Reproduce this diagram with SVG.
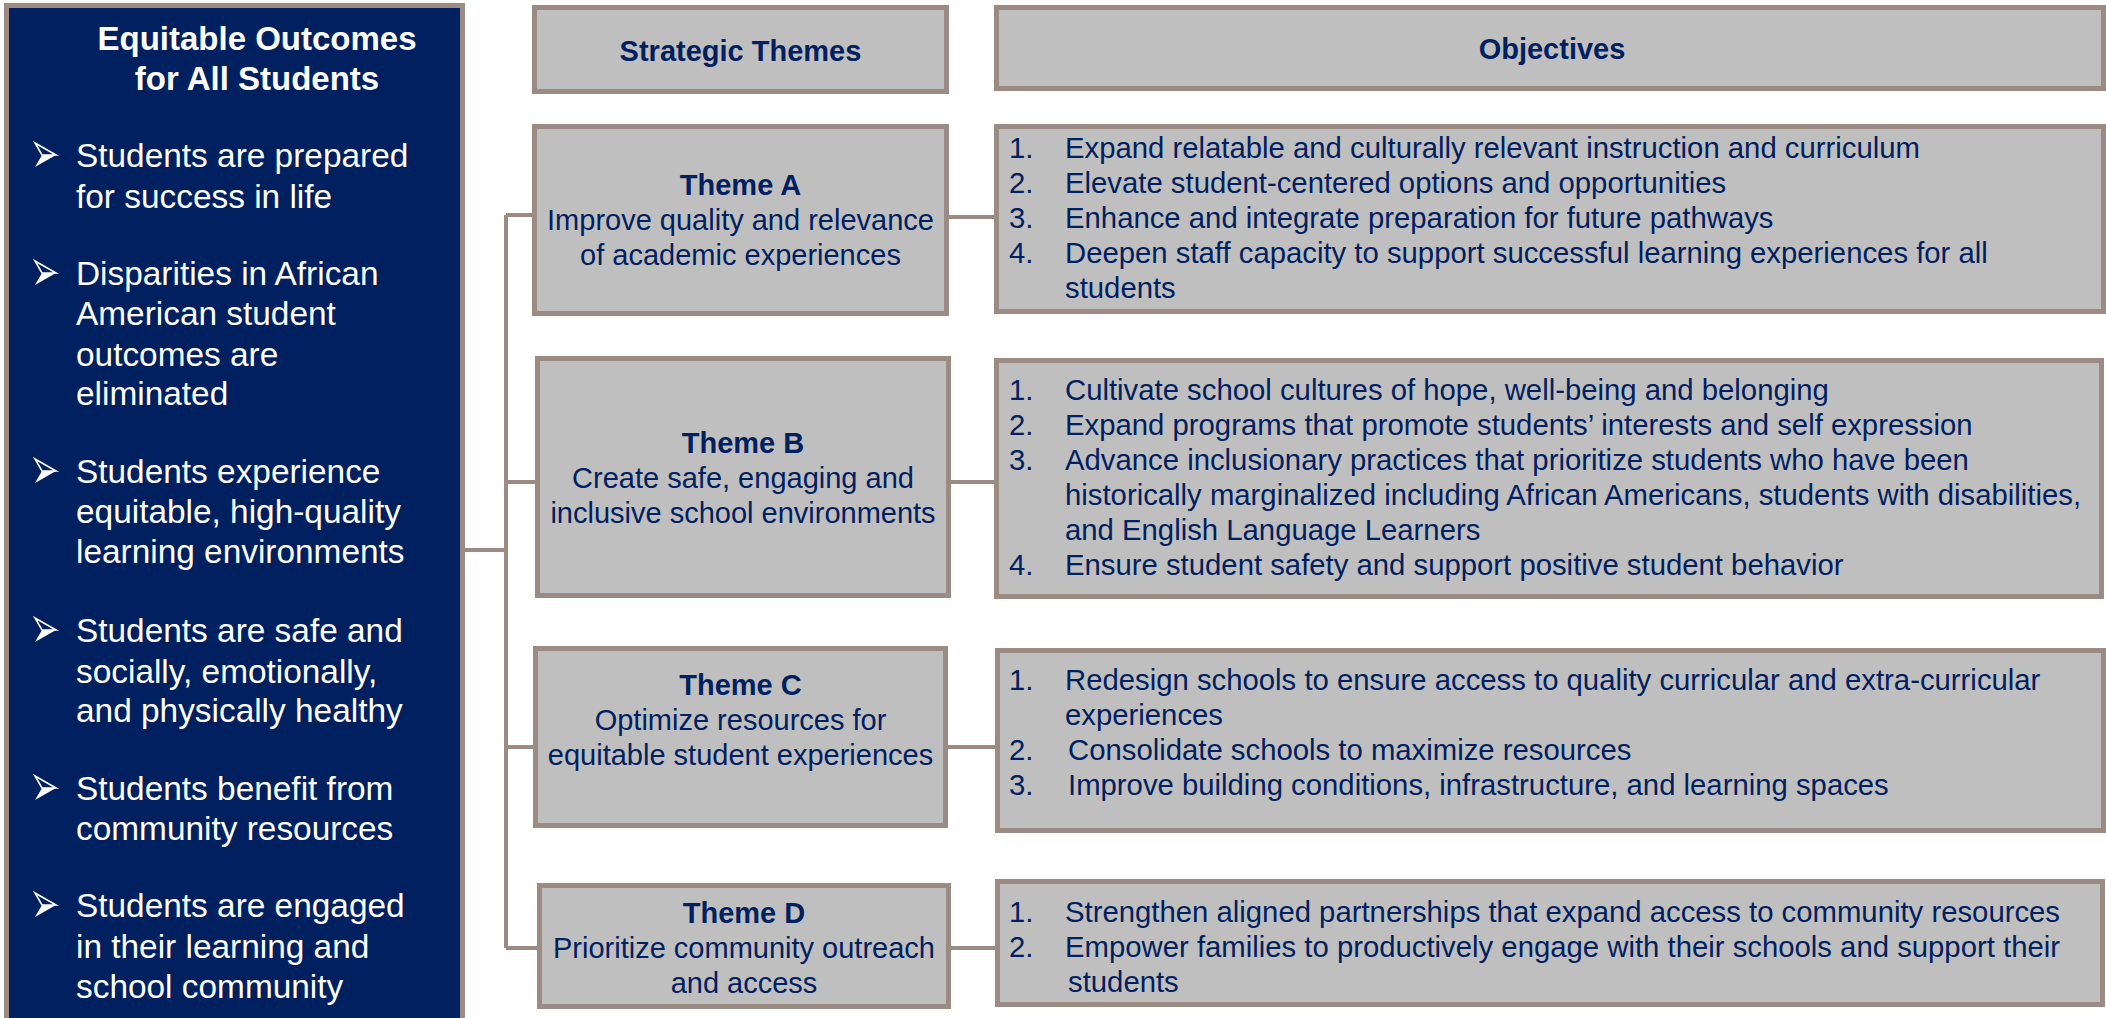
<svg xmlns="http://www.w3.org/2000/svg" width="2106" height="1018" viewBox="0 0 2106 1018">
<defs>
<style>
.box{fill:#bfbfbf;stroke:#9b8b83;stroke-width:5}
.panel{fill:#002060;stroke:#9b8b83;stroke-width:5}
.conn{fill:none;stroke:#9b8b83;stroke-width:4}
text{font-family:"Liberation Sans",Arial,sans-serif}
.hd{font-size:29px;font-weight:bold;fill:#002060;text-anchor:middle}
.tt{font-size:29px;fill:#002060;text-anchor:middle}
.ob{font-size:29.3px;fill:#002060}
.pt{font-size:33px;font-weight:bold;fill:#ffffff;text-anchor:middle}
.pb{font-size:33.4px;fill:#ffffff}
</style>
<g id="arrowBullet">
<polygon points="0,-12 21,0 7,0" fill="none" stroke="#ffffff" stroke-width="1.6" stroke-linejoin="miter"/>
<polygon points="7,0 21,0 0,12" fill="#ffffff"/>
</g>
</defs>
<rect width="2106" height="1018" fill="#ffffff"/>

<g id="connectors">
<path class="conn" d="M465,550 H506 M506,215 V948 M506,215 H532 M506,482 H535 M506,747 H533 M506,948 H537"/>
<path class="conn" d="M949,217 H994 M951,482 H994 M948,747 H995 M951,948 H995"/>
</g>

<g id="outcomes">
<rect class="panel" x="6.5" y="5.5" width="456" height="1100"/>
<text class="pt" x="257" y="50">Equitable Outcomes</text>
<text class="pt" x="257" y="90">for All Students</text>
<use href="#arrowBullet" x="35" y="155"/>
<text class="pb" x="76"><tspan x="76" y="167">Students are prepared</tspan><tspan x="76" y="208">for success in life</tspan></text>
<use href="#arrowBullet" x="35" y="273"/>
<text class="pb"><tspan x="76" y="285">Disparities in African</tspan><tspan x="76" y="325">American student</tspan><tspan x="76" y="366">outcomes are</tspan><tspan x="76" y="405">eliminated</tspan></text>
<use href="#arrowBullet" x="35" y="471"/>
<text class="pb"><tspan x="76" y="483">Students experience</tspan><tspan x="76" y="523">equitable, high-quality</tspan><tspan x="76" y="563">learning environments</tspan></text>
<use href="#arrowBullet" x="35" y="630"/>
<text class="pb"><tspan x="76" y="642">Students are safe and</tspan><tspan x="76" y="683">socially, emotionally,</tspan><tspan x="76" y="722">and physically healthy</tspan></text>
<use href="#arrowBullet" x="35" y="788"/>
<text class="pb"><tspan x="76" y="800">Students benefit from</tspan><tspan x="76" y="840">community resources</tspan></text>
<use href="#arrowBullet" x="35" y="905"/>
<text class="pb"><tspan x="76" y="917">Students are engaged</tspan><tspan x="76" y="958">in their learning and</tspan><tspan x="76" y="998">school community</tspan></text>
</g>

<g id="header-themes">
<rect class="box" x="534.5" y="7.5" width="412" height="84"/>
<text class="hd" x="740.5" y="61">Strategic Themes</text>
</g>
<g id="header-objectives">
<rect class="box" x="996.5" y="7.5" width="1107" height="81"/>
<text class="hd" x="1552" y="59">Objectives</text>
</g>

<g id="theme-a">
<rect class="box" x="534.5" y="126.5" width="412" height="187"/>
<text class="hd" x="740.5" y="195">Theme A</text>
<text class="tt" x="740.5" y="230">Improve quality and relevance</text>
<text class="tt" x="740.5" y="265">of academic experiences</text>
</g>
<g id="theme-b">
<rect class="box" x="537.5" y="358.5" width="411" height="237"/>
<text class="hd" x="743" y="453">Theme B</text>
<text class="tt" x="743" y="488">Create safe, engaging and</text>
<text class="tt" x="743" y="523">inclusive school environments</text>
</g>
<g id="theme-c">
<rect class="box" x="535.5" y="648.5" width="410" height="177"/>
<text class="hd" x="740.5" y="695">Theme C</text>
<text class="tt" x="740.5" y="730">Optimize resources for</text>
<text class="tt" x="740.5" y="765">equitable student experiences</text>
</g>
<g id="theme-d">
<rect class="box" x="539.5" y="885.5" width="409" height="121"/>
<text class="hd" x="744" y="923">Theme D</text>
<text class="tt" x="744" y="958">Prioritize community outreach</text>
<text class="tt" x="744" y="993">and access</text>
</g>

<g id="objectives-a">
<rect class="box" x="996.5" y="126.5" width="1107" height="185"/>
<text class="ob"><tspan x="1009" y="158">1.</tspan><tspan x="1065" y="158">Expand relatable and culturally relevant instruction and curriculum</tspan></text>
<text class="ob"><tspan x="1009" y="193">2.</tspan><tspan x="1065" y="193">Elevate student-centered options and opportunities</tspan></text>
<text class="ob"><tspan x="1009" y="228">3.</tspan><tspan x="1065" y="228">Enhance and integrate preparation for future pathways</tspan></text>
<text class="ob"><tspan x="1009" y="263">4.</tspan><tspan x="1065" y="263">Deepen staff capacity to support successful learning experiences for all</tspan><tspan x="1065" y="298">students</tspan></text>
</g>
<g id="objectives-b">
<rect class="box" x="996.5" y="360.5" width="1105" height="236"/>
<text class="ob"><tspan x="1009" y="400">1.</tspan><tspan x="1065" y="400">Cultivate school cultures of hope, well-being and belonging</tspan></text>
<text class="ob"><tspan x="1009" y="435">2.</tspan><tspan x="1065" y="435">Expand programs that promote students’ interests and self expression</tspan></text>
<text class="ob"><tspan x="1009" y="470">3.</tspan><tspan x="1065" y="470">Advance inclusionary practices that prioritize students who have been</tspan><tspan x="1065" y="505">historically marginalized including African Americans, students with disabilities,</tspan><tspan x="1065" y="540">and English Language Learners</tspan></text>
<text class="ob"><tspan x="1009" y="575">4.</tspan><tspan x="1065" y="575">Ensure student safety and support positive student behavior</tspan></text>
</g>
<g id="objectives-c">
<rect class="box" x="997.5" y="650.5" width="1106" height="180"/>
<text class="ob"><tspan x="1009" y="690">1.</tspan><tspan x="1065" y="690">Redesign schools to ensure access to quality curricular and extra-curricular</tspan><tspan x="1065" y="725">experiences</tspan></text>
<text class="ob"><tspan x="1009" y="760">2.</tspan><tspan x="1068" y="760">Consolidate schools to maximize resources</tspan></text>
<text class="ob"><tspan x="1009" y="795">3.</tspan><tspan x="1068" y="795">Improve building conditions, infrastructure, and learning spaces</tspan></text>
</g>
<g id="objectives-d">
<rect class="box" x="997.5" y="881.5" width="1105" height="123"/>
<text class="ob"><tspan x="1009" y="922">1.</tspan><tspan x="1065" y="922">Strengthen aligned partnerships that expand access to community resources</tspan></text>
<text class="ob"><tspan x="1009" y="957">2.</tspan><tspan x="1065" y="957">Empower families to productively engage with their schools and support their</tspan><tspan x="1068" y="992">students</tspan></text>
</g>
</svg>
